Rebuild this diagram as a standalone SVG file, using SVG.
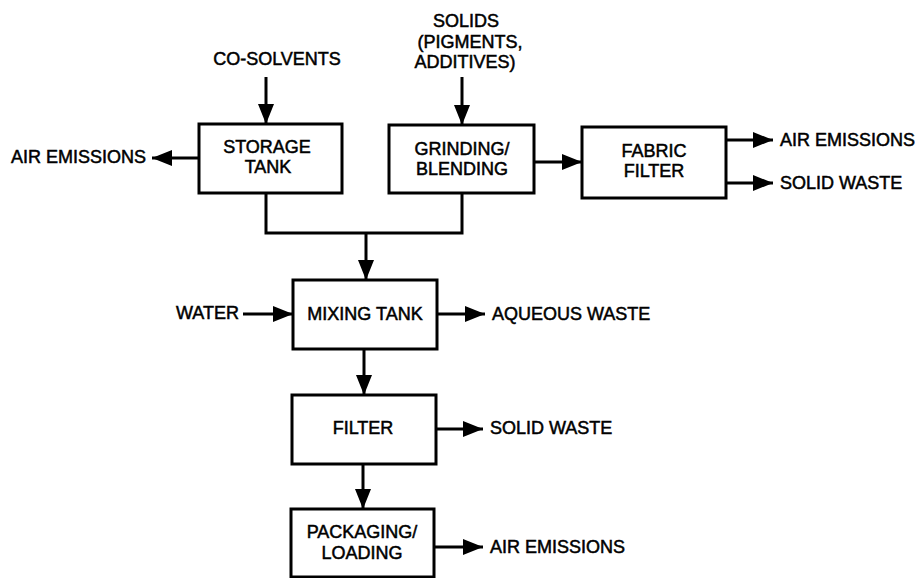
<svg xmlns="http://www.w3.org/2000/svg" width="915" height="578" viewBox="0 0 915 578">
<defs>
<marker id="ah" markerUnits="userSpaceOnUse" markerWidth="20" markerHeight="16" refX="20" refY="8" orient="auto">
<path d="M0,0 L20,8 L0,16 z" fill="#000"/>
</marker>
<style>
.box{fill:#fff;stroke:#000;stroke-width:3}
.ln{fill:none;stroke:#000;stroke-width:3}
.ar{fill:none;stroke:#000;stroke-width:3;marker-end:url(#ah)}
text{font-family:"Liberation Sans",Arial,sans-serif;font-size:18px;fill:#000;stroke:#000;stroke-width:0.5}
.c{text-anchor:middle}
</style>
</defs>
<rect width="915" height="578" fill="#fff"/>
<g id="connectors">
<line class="ar" x1="266" y1="77" x2="266" y2="124"/>
<line class="ar" x1="199" y1="158" x2="152" y2="158"/>
<line class="ar" x1="462" y1="77" x2="462" y2="125"/>
<line class="ar" x1="534" y1="162" x2="582" y2="162"/>
<line class="ar" x1="726" y1="140" x2="773" y2="140"/>
<line class="ar" x1="726" y1="183" x2="773" y2="183"/>
<polyline class="ln" points="266,193 266,233 462,233 462,193"/>
<line class="ar" x1="366" y1="233" x2="366" y2="280"/>
<line class="ar" x1="243" y1="314" x2="293" y2="314"/>
<line class="ar" x1="437" y1="314" x2="485" y2="314"/>
<line class="ar" x1="364" y1="349" x2="364" y2="395"/>
<line class="ar" x1="436" y1="429" x2="483" y2="429"/>
<line class="ar" x1="363" y1="464" x2="363" y2="509"/>
<line class="ar" x1="434" y1="547" x2="483" y2="547"/>
</g>
<g id="storage-tank">
<rect class="box" x="199" y="124" width="143" height="69"/>
<text class="c" x="267" y="153">STORAGE</text>
<text class="c" x="268" y="173">TANK</text>
</g>
<g id="grinding-blending">
<rect class="box" x="389" y="125" width="145" height="68"/>
<text class="c" x="462" y="155">GRINDING/</text>
<text class="c" x="462" y="175">BLENDING</text>
</g>
<g id="fabric-filter">
<rect class="box" x="582" y="127" width="144" height="71"/>
<text class="c" x="654" y="157">FABRIC</text>
<text class="c" x="654" y="177">FILTER</text>
</g>
<g id="mixing-tank">
<rect class="box" x="293" y="280" width="144" height="69"/>
<text class="c" x="365" y="320">MIXING TANK</text>
</g>
<g id="filter">
<rect class="box" x="292" y="395" width="144" height="69"/>
<text class="c" x="363" y="434">FILTER</text>
</g>
<g id="packaging-loading">
<rect class="box" x="291" y="509" width="143" height="68"/>
<text class="c" x="362" y="538">PACKAGING/</text>
<text class="c" x="362" y="559">LOADING</text>
</g>
<g id="labels">
<text class="c" x="277" y="65">CO-SOLVENTS</text>
<text class="c" x="466" y="27">SOLIDS</text>
<text class="c" x="470" y="48">(PIGMENTS,</text>
<text class="c" x="465" y="68">ADDITIVES)</text>
<text x="11" y="163">AIR EMISSIONS</text>
<text x="780" y="146">AIR EMISSIONS</text>
<text x="780" y="189">SOLID WASTE</text>
<text x="176" y="319">WATER</text>
<text x="492" y="320">AQUEOUS WASTE</text>
<text x="490" y="434">SOLID WASTE</text>
<text x="490" y="553">AIR EMISSIONS</text>
</g>
</svg>
